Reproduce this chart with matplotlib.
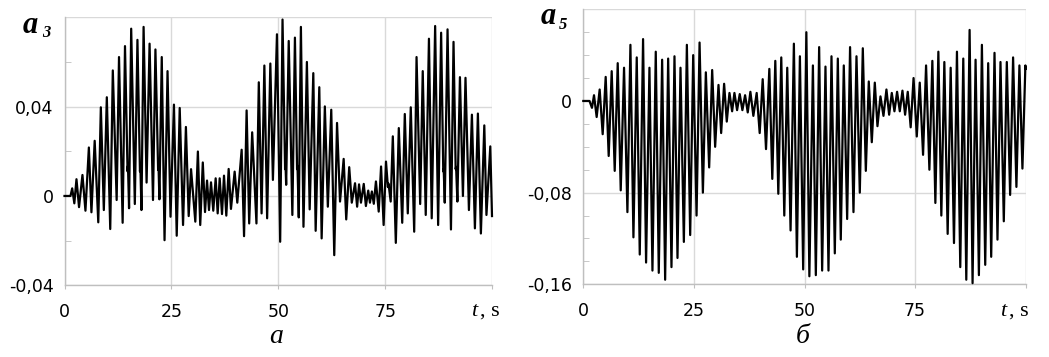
import matplotlib
matplotlib.use("Agg")
import matplotlib.pyplot as plt
from matplotlib.ticker import MultipleLocator

# ---------------- data (turning points) ----------------
t_a3 = [0, 1.4, 1.8, 2.3, 2.8, 3.4, 4.2, 4.9, 5.7, 6.3, 7.06, 7.9, 8.5, 9.2, 9.9, 10.7,
        11.3, 12.2, 12.75, 13.6, 14.15, 14.75, 14.85, 15.1, 15.6, 16.45, 17.06, 17.65,
        17.75, 18.0, 18.5, 19.2, 19.9, 20.7, 21.27, 21.9, 22.0, 22.2, 22.75, 23.4, 24.1,
        24.8, 25.6, 26.25, 26.95, 27.73, 28.4, 29.05, 29.6, 30.6, 31.2, 31.75, 32.35,
        32.87, 33.34, 33.8, 34.27, 34.8, 35.36, 35.83, 36.3, 36.84, 37.31, 37.85, 38.4,
        38.94, 39.8, 40.42, 41.44, 42.0, 42.6, 43.2, 43.9, 44.9, 45.45, 46.1, 46.75,
        47.4, 48.15, 48.75, 49.7, 50.45, 51.0, 51.6, 51.7, 51.85, 52.45, 53.3, 53.9,
        54.4, 54.5, 54.8, 55.3, 55.9, 56.7, 57.35, 58.2, 58.75, 59.6, 60.15, 60.9, 61.6,
        62.4, 63.1, 63.75, 64.45, 65.3, 65.9, 66.6, 67.2, 67.96, 68.45, 68.9, 69.35,
        70.0, 70.5, 71.05, 71.45, 71.9, 72.35, 72.85, 73.5, 74.05, 74.65, 75.2, 75.65,
        75.8, 76.3, 76.8, 77.5, 78.2, 79.0, 79.6, 80.3, 81.0, 81.8, 82.35, 83.2, 83.8,
        84.5, 85.25, 85.9, 86.7, 87.4, 88.1, 88.6, 88.7, 88.95, 89.6, 90.4, 91.0, 91.5,
        91.6, 91.9, 92.5, 93.2, 93.8, 94.6, 95.3, 96.0, 96.7, 97.4, 98.2, 98.7, 99.6, 100]
a3 = [0, 0, 0.0034, -0.0033, 0.0075, -0.005, 0.0094, -0.0066, 0.0217, -0.0073, 0.0247,
      -0.0118, 0.0397, -0.0063, 0.0442, -0.0148, 0.0562, -0.0018, 0.0622, -0.012, 0.0671,
      0.011, 0.0135, -0.0055, 0.0749, -0.0036, 0.0699, 0.011, 0.013, -0.0063, 0.0757,
      0.006, 0.0682, -0.0018, 0.0656, 0.0117, 0.013, -0.0015, 0.0622, -0.0198, 0.0559,
      -0.0093, 0.0409, -0.0178, 0.0394, -0.013, 0.0309, -0.009, 0.012, -0.0115, 0.0199,
      -0.013, 0.015, -0.0072, 0.0069, -0.0063, 0.0061, -0.0066, 0.0079, -0.0078, 0.0079,
      -0.0081, 0.0091, -0.0088, 0.0121, -0.0058, 0.0109, -0.003, 0.0207, -0.018, 0.0383,
      -0.0123, 0.0285, -0.0123, 0.0509, -0.0078, 0.0584, -0.01, 0.0593, 0.0072, 0.0724,
      -0.0205, 0.079, 0.012, 0.014, 0.005, 0.0694, -0.0085, 0.0709, 0.012, 0.0135,
      -0.0096, 0.0757, -0.0138, 0.060, -0.006, 0.055, -0.0156, 0.0487, -0.019, 0.0401,
      -0.0048, 0.0386, -0.0265, 0.0327, -0.0025, 0.0166, -0.0105, 0.0129, -0.003, 0.0057,
      -0.0048, 0.0052, -0.003, 0.0054, -0.0045, 0.0024, -0.003, 0.002, -0.0035, 0.0065,
      -0.007, 0.0132, -0.013, 0.0154, 0.004, 0.0055, -0.0025, 0.0267, -0.021, 0.0304,
      -0.012, 0.0367, -0.0078, 0.0397, -0.016, 0.0622, -0.0036, 0.0559, -0.0085, 0.0704,
      -0.010, 0.0761, -0.013, 0.0731, 0.011, 0.012, -0.003, 0.0746, -0.015, 0.069, 0.012,
      0.013, -0.0025, 0.0532, 0.0, 0.0529, -0.0063, 0.0364, -0.0145, 0.0369, -0.0168,
      0.0316, -0.0085, 0.0222, -0.009]

t_a5 = [0, 1.4, 1.96, 2.42, 3.02, 3.70, 4.38, 5.06, 5.74, 6.42, 7.10, 7.78, 8.46, 9.21,
        9.97, 10.65, 11.33, 12.08, 12.76, 13.51, 14.19, 14.95, 15.63, 16.38, 17.06, 17.82,
        18.50, 19.18, 19.93, 20.61, 21.29, 21.97, 22.73, 23.41, 24.16, 24.84, 25.6, 26.28,
        27.03, 27.7, 28.45, 29.13, 29.8, 30.56, 31.16, 31.83, 32.43, 33.04, 33.64, 34.16,
        34.76, 35.36, 35.96, 36.57, 37.17, 37.77, 38.44, 39.19, 39.87, 40.55, 41.3, 42.05,
        42.72, 43.4, 44.08, 44.75, 45.43, 46.1, 46.85, 47.6, 48.28, 48.96, 49.7, 50.42,
        51.1, 51.9, 52.56, 53.31, 53.99, 54.74, 55.42, 56.1, 56.85, 57.53, 58.2, 58.88,
        59.64, 60.3, 61.07, 61.75, 62.5, 63.18, 63.86, 64.53, 65.21, 65.89, 66.49, 67.17,
        67.85, 68.52, 69.13, 69.73, 70.33, 70.93, 71.54, 72.14, 72.74, 73.34, 74.0, 74.65,
        75.38, 76.05, 76.8, 77.48, 78.23, 78.9, 79.58, 80.26, 80.93, 81.61, 82.36, 83.04,
        83.79, 84.46, 85.21, 85.89, 86.57, 87.32, 87.99, 88.67, 89.42, 90.1, 90.85, 91.52,
        92.2, 92.95, 93.62, 94.3, 95.05, 95.73, 96.48, 97.15, 97.9, 98.58, 99.26, 99.93, 100]
a5 = [0, 0, -0.006, 0.005, -0.014, 0.010, -0.029, 0.021, -0.048, 0.026, -0.061, 0.033,
      -0.078, 0.029, -0.097, 0.049, -0.119, 0.038, -0.134, 0.054, -0.141, 0.029, -0.148,
      0.043, -0.150, 0.036, -0.156, 0.037, -0.145, 0.039, -0.137, 0.029, -0.123, 0.049,
      -0.117, 0.040, -0.100, 0.051, -0.080, 0.025, -0.058, 0.027, -0.040, 0.014, -0.028,
      0.015, -0.018, 0.007, -0.009, 0.007, -0.008, 0.006, -0.008, 0.005, -0.010, 0.008,
      -0.013, 0.007, -0.028, 0.019, -0.042, 0.028, -0.068, 0.035, -0.081, 0.038, -0.100,
      0.029, -0.113, 0.050, -0.136, 0.039, -0.147, 0.060, -0.153, 0.031, -0.152, 0.047,
      -0.148, 0.030, -0.148, 0.039, -0.133, 0.037, -0.121, 0.031, -0.103, 0.047, -0.097,
      0.039, -0.080, 0.046, -0.061, 0.017, -0.036, 0.016, -0.022, 0.004, -0.013, 0.010,
      -0.012, 0.007, -0.009, 0.008, -0.009, 0.009, -0.012, 0.008, -0.023, 0.020, -0.031,
      0.016, -0.047, 0.031, -0.060, 0.035, -0.089, 0.043, -0.100, 0.034, -0.116, 0.029,
      -0.124, 0.043, -0.145, 0.037, -0.156, 0.062, -0.159, 0.036, -0.152, 0.049, -0.143,
      0.033, -0.136, 0.042, -0.121, 0.034, -0.105, 0.034, -0.082, 0.038, -0.075, 0.031,
      -0.059, 0.031, 0.028]

x_ticks = [0, 25, 50, 75, 100]
x_ticklabels = ["0", "25", "50", "75", ""]
y_ticks_a3 = [-0.04, 0, 0.04, 0.08]
y_labels_a3 = ["-0,04", "0", "0,04", ""]
y_ticks_a5 = [-0.16, -0.08, 0, 0.08]
y_labels_a5 = ["-0,16", "-0,08", "0", ""]
panel_subs = ["3", "5"]
panel_letters = ["а", "б"]
x_label = ("t", ", s")

# ---------------- figure ----------------
plt.rcParams["font.family"] = ["DejaVu Sans"]
fig = plt.figure(figsize=(10.49, 3.57), dpi=100)

grid_c = "#d9d9d9"
axis_c = "#bfbfbf"
W, H = 1049, 357


def make_axes(px_left, px_right, px_top, px_bottom):
    return fig.add_axes([px_left / W, 1 - px_bottom / H,
                         (px_right - px_left) / W, (px_bottom - px_top) / H])


ax1 = make_axes(64.5, 492, 17.3, 285.3)
ax2 = make_axes(583.3, 1025.7, 9.3, 284.3)

setups = [
    (ax1, t_a3, a3, (-0.04, 0.08), y_ticks_a3, y_labels_a3),
    (ax2, t_a5, a5, (-0.16, 0.08), y_ticks_a5, y_labels_a5),
]
for ax, tt, vv, ylim, yt, yl in setups:
    ax.plot(tt, vv, color="black", lw=1.6, solid_joinstyle="round", zorder=3,
            clip_on=False)
    ax.set_xlim(0, 100)
    ax.set_ylim(*ylim)
    ax.set_xticks(x_ticks)
    ax.set_xticklabels(x_ticklabels)
    ax.set_yticks(yt)
    ax.set_yticklabels(yl)
    ax.yaxis.set_minor_locator(MultipleLocator(0.02))
    ax.grid(True, which="major", color=grid_c, lw=1.0, zorder=0)
    for s in ["top", "right"]:
        ax.spines[s].set_visible(False)
    for s in ["left", "bottom"]:
        ax.spines[s].set_color(axis_c)
        ax.spines[s].set_linewidth(1.0)
    ax.tick_params(axis="x", which="major", length=3, direction="out",
                   color=axis_c, pad=10, labelsize=12.5)
    ax.tick_params(axis="y", which="major", length=0, pad=8, labelsize=12.5)
    ax.tick_params(axis="y", which="minor", length=4, direction="in", color=axis_c)
    ax.set_facecolor("white")

# panel titles a3 / a5
for (xa, ya, xs, ys, sub) in [(23, 33, 42, 37, panel_subs[0]),
                              (541, 24, 559, 29, panel_subs[1])]:
    fig.text(xa / W, 1 - ya / H, "a", fontsize=22, family="Liberation Serif",
             weight="bold", style="italic", ha="left", va="baseline")
    fig.text(xs / W, 1 - ys / H, sub, fontsize=12, family="Liberation Serif",
             weight="bold", style="italic", ha="left", va="baseline")

# t, s labels
for xpx in (471, 1000):
    fig.text(xpx / W, 1 - 316 / H, x_label[0], fontsize=16,
             family="Liberation Serif", style="italic", ha="left", va="baseline")
    fig.text((xpx + 9) / W, 1 - 316 / H, x_label[1], fontsize=16,
             family="Liberation Serif", ha="left", va="baseline")

# panel letters
fig.text(276 / W, 1 - 343 / H, panel_letters[0], fontsize=20,
         family="Liberation Serif", style="italic", ha="center", va="baseline")
fig.text(803 / W, 1 - 343 / H, panel_letters[1], fontsize=20,
         family="Liberation Serif", style="italic", ha="center", va="baseline")

fig.savefig("out.png", dpi=100, facecolor="white")
